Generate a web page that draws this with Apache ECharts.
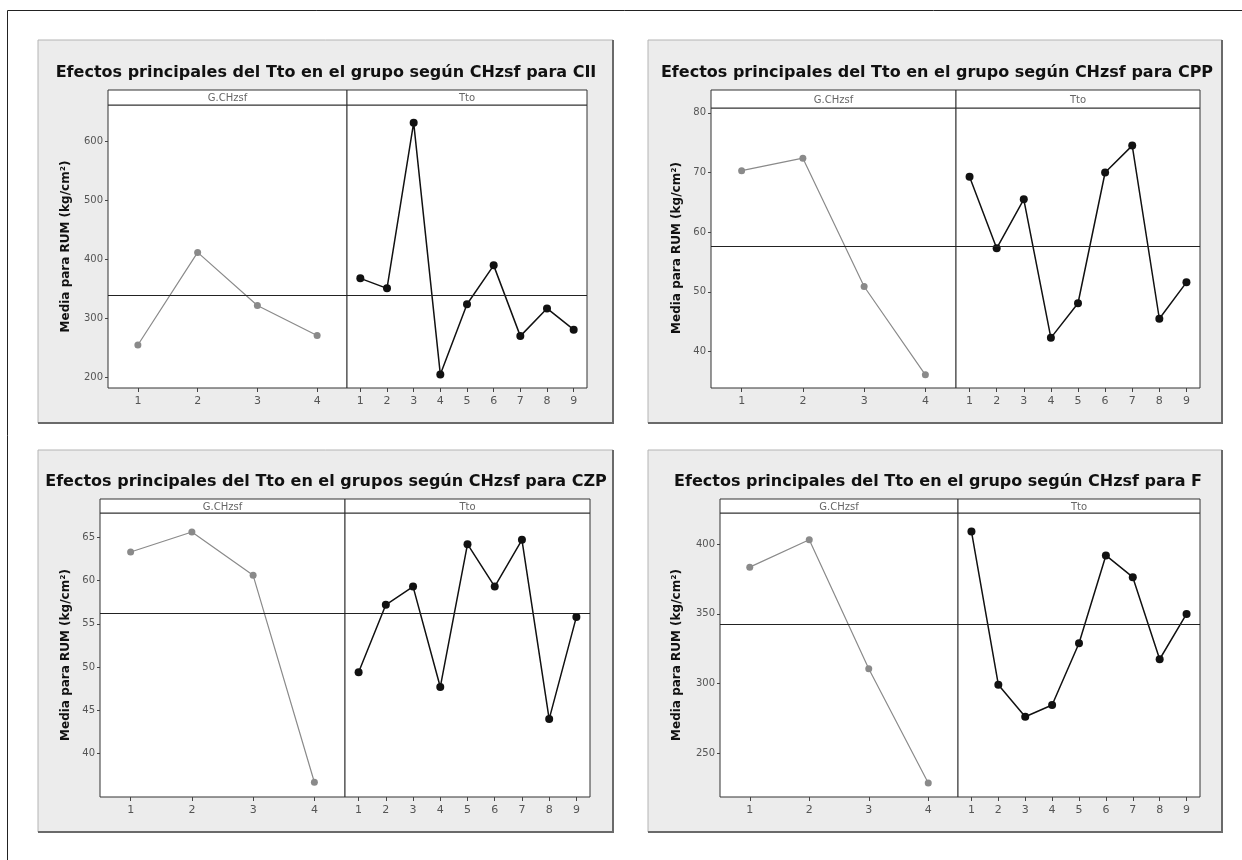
<!DOCTYPE html>
<html>
<head>
<meta charset="utf-8">
<script src="https://cdn.jsdelivr.net/npm/echarts@6/dist/echarts.min.js"></script>
<style>
html,body{margin:0;padding:0;background:#fff;}
#c{width:1242px;height:860px;}
</style>
</head>
<body>
<div id="c"></div>
<script>
// ---- data ----
const gLabels = ['1', '2', '3', '4'];
const tLabels = ['1', '2', '3', '4', '5', '6', '7', '8', '9'];
const stripLabels = ['G.CHzsf', 'Tto'];
const yName = 'Media para RUM (kg/cm²)';

const titles = [
  'Efectos principales del Tto en el grupo según CHzsf para CII',
  'Efectos principales del Tto en el grupo según CHzsf para CPP',
  'Efectos principales del Tto en el grupos según CHzsf para CZP',
  'Efectos principales del Tto en el grupo según CHzsf para F'
];

const ciiG = [255, 412, 322, 271];
const ciiT = [368, 351, 632, 205, 324, 390, 270, 317, 281];
const ciiMean = 339;
const ciiTicks = [200, 300, 400, 500, 600];
const ciiRange = [182, 662];

const cppG = [70.3, 72.4, 50.9, 36.1];
const cppT = [69.3, 57.3, 65.5, 42.3, 48.1, 70.0, 74.5, 45.5, 51.6];
const cppMean = 57.6;
const cppTicks = [40, 50, 60, 70, 80];
const cppRange = [33.9, 80.8];

const czpG = [63.3, 65.6, 60.6, 36.7];
const czpT = [49.4, 57.2, 59.3, 47.7, 64.2, 59.3, 64.7, 44.0, 55.8];
const czpMean = 56.2;
const czpTicks = [40, 45, 50, 55, 60, 65];
const czpRange = [35.0, 67.8];

const fG = [383.5, 403.1, 310.7, 228.9];
const fT = [409.1, 299.3, 276.3, 284.7, 329.0, 391.9, 376.3, 317.5, 350.0];
const fMean = 342.8;
const fTicks = [250, 300, 350, 400];
const fRange = [218.8, 422.3];

// ---- layout (positions/styles only) ----
const panels = [
  {box: [38, 40, 575, 383], titleX: 326, titleY: 64, stripTop: 90,
   left: [108, 239], right: [347, 240], top: 105, height: 283, nameGap: 36,
   g: ciiG, t: ciiT, mean: ciiMean, ticks: ciiTicks, range: ciiRange},
  {box: [648, 40, 574, 383], titleX: 937, titleY: 64, stripTop: 90,
   left: [711, 245], right: [956, 244], top: 108, height: 280, nameGap: 28,
   g: cppG, t: cppT, mean: cppMean, ticks: cppTicks, range: cppRange},
  {box: [38, 450, 575, 382], titleX: 326, titleY: 473, stripTop: 499,
   left: [100, 245], right: [345, 245], top: 513, height: 284, nameGap: 28,
   g: czpG, t: czpT, mean: czpMean, ticks: czpTicks, range: czpRange},
  {box: [648, 450, 574, 382], titleX: 938, titleY: 473, stripTop: 499,
   left: [720, 238], right: [958, 242], top: 513, height: 284, nameGap: 37,
   g: fG, t: fT, mean: fMean, ticks: fTicks, range: fRange}
];

const FONT = 'DejaVu Sans';
const grids = [], xAxes = [], yAxes = [], series = [], titleOpts = [], graphics = [];

// outer frame (top and left edges visible)
graphics.push({type: 'line', shape: {x1: 7.5, y1: 10.5, x2: 1242, y2: 10.5}, style: {stroke: '#222', lineWidth: 1}, z: 0});
graphics.push({type: 'line', shape: {x1: 7.5, y1: 10.5, x2: 7.5, y2: 860}, style: {stroke: '#222', lineWidth: 1}, z: 0});

panels.forEach((p, i) => {
  const [bx, by, bw, bh] = p.box;
  graphics.push({type: 'rect', shape: {x: bx, y: by, width: bw, height: bh},
    style: {fill: '#ececec', stroke: '#b4b4b4', lineWidth: 1}, z: -10});
  graphics.push({type: 'polyline', shape: {points: [[bx + bw, by], [bx + bw, by + bh], [bx, by + bh]]},
    style: {stroke: '#6a6a6a', lineWidth: 2, fill: null}, z: -9});

  titleOpts.push({
    text: titles[i], left: p.titleX, top: p.titleY + 1, textAlign: 'center',
    textStyle: {fontFamily: FONT, fontWeight: 'bold', fontSize: 16, color: '#111'},
    padding: 0
  });

  [p.left, p.right].forEach((lw, k) => {
    const gi = grids.length;
    grids.push({left: lw[0], width: lw[1], top: p.top, height: p.height,
      show: true, backgroundColor: '#fff', borderColor: '#333', borderWidth: 1, containLabel: false});
    // strip header
    graphics.push({type: 'rect', shape: {x: lw[0], y: p.stripTop, width: lw[1], height: p.top - p.stripTop},
      style: {fill: '#fff', stroke: '#333', lineWidth: 1}, z: 5});
    graphics.push({type: 'text', x: lw[0] + lw[1] / 2, y: p.stripTop + (p.top - p.stripTop) / 2 + 1,
      style: {text: stripLabels[k], fill: '#666', font: '10px ' + FONT, align: 'center', verticalAlign: 'middle'}, z: 6});

    const cats = k === 0 ? gLabels : tLabels;
    xAxes.push({
      type: 'category', gridIndex: gi, data: cats, boundaryGap: true,
      axisLine: {show: false},
      axisTick: {show: true, alignWithLabel: true, length: 4, lineStyle: {color: '#444'}},
      axisLabel: {color: '#555', fontFamily: FONT, fontSize: 11, margin: 8},
      splitLine: {show: false}
    });
    yAxes.push({
      type: 'value', gridIndex: gi, min: p.range[0], max: p.range[1],
      name: k === 0 ? yName : '', nameLocation: 'middle', nameRotate: 90, nameGap: p.nameGap,
      nameTextStyle: {fontFamily: FONT, fontWeight: 'bold', fontSize: 12, color: '#111'},
      axisLine: {show: false},
      axisTick: {show: k === 0, length: 3, customValues: p.ticks, lineStyle: {color: '#444'}},
      axisLabel: {show: k === 0, customValues: p.ticks, color: '#555', fontFamily: FONT, fontSize: 10, margin: 5},
      splitLine: {show: false}
    });
    const isT = k === 1;
    series.push({
      type: 'line', xAxisIndex: gi, yAxisIndex: gi, data: isT ? p.t : p.g,
      symbol: 'circle', symbolSize: isT ? 8 : 7,
      lineStyle: {color: isT ? '#111' : '#8a8a8a', width: isT ? 1.5 : 1.2},
      itemStyle: {color: isT ? '#111' : '#8a8a8a'},
      animation: false, silent: true,
      markLine: {silent: true, symbol: 'none', label: {show: false},
        lineStyle: {color: '#222', width: 1, type: 'solid'},
        data: [{yAxis: p.mean}], animation: false},
      z: 3
    });
  });
});

const chart = echarts.init(document.getElementById('c'), null, {renderer: 'canvas'});
chart.setOption({
  animation: false,
  backgroundColor: '#fff',
  title: titleOpts,
  grid: grids,
  xAxis: xAxes,
  yAxis: yAxes,
  series: series,
  graphic: graphics
});
</script>
</body>
</html>
